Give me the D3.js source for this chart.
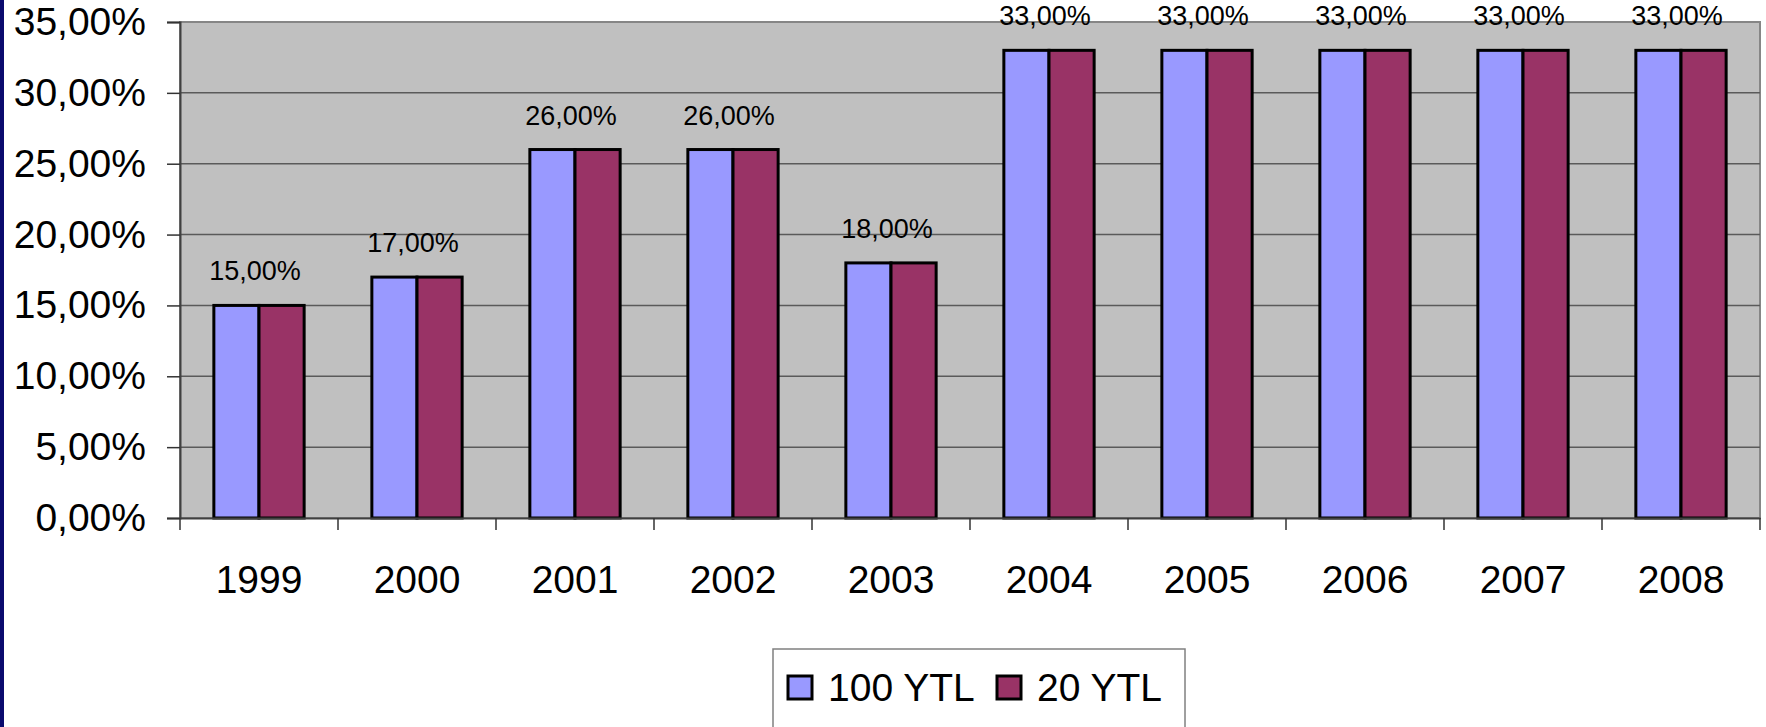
<!DOCTYPE html>
<html>
<head>
<meta charset="utf-8">
<script src="https://cdn.jsdelivr.net/npm/d3@7"></script>
<style>
  html, body { margin: 0; padding: 0; background: #fff; }
  svg { display: block; font-family: "Liberation Sans", Arial, sans-serif; }
</style>
</head>
<body>
<svg id="chart" width="1766" height="727"></svg>
<script>
const years = ['1999', '2000', '2001', '2002', '2003', '2004', '2005', '2006', '2007', '2008'];
const seriesNames = ['100 YTL', '20 YTL'];
const values100 = [0.15, 0.17, 0.26, 0.26, 0.18, 0.33, 0.33, 0.33, 0.33, 0.33];
const values20 = [0.15, 0.17, 0.26, 0.26, 0.18, 0.33, 0.33, 0.33, 0.33, 0.33];
const yTicks = [0, 0.05, 0.10, 0.15, 0.20, 0.25, 0.30, 0.35];
const colors = ['#9999FF', '#993366'];

const svg = d3.select('#chart');

// left navy strip of the slide
svg.append('rect')
  .attr('x', 0).attr('y', 0)
  .attr('width', 4).attr('height', 727)
  .attr('fill', '#0a0a6e');

const plot = { left: 180, right: 1760, top: 22, bottom: 518 };

const x = d3.scaleBand()
  .domain(years)
  .range([plot.left, plot.right])
  .paddingInner(0)
  .paddingOuter(0);

// excel gap width 150%
const x1 = d3.scaleBand()
  .domain(seriesNames)
  .range([0, x.bandwidth()])
  .paddingInner(0)
  .paddingOuter(0.75);

const y = d3.scaleLinear()
  .domain([0, 0.35])
  .range([plot.bottom, plot.top]);

const locale = d3.formatLocale({ decimal: ',', thousands: '.', grouping: [3], currency: ['', ' TL'] });
const pct = locale.format('.2%');

// plot background
svg.append('rect')
  .attr('x', plot.left)
  .attr('y', plot.top)
  .attr('width', plot.right - plot.left)
  .attr('height', plot.bottom - plot.top)
  .attr('fill', '#C0C0C0')
  .attr('stroke', '#868686')
  .attr('stroke-width', 2);

// gridlines
svg.append('g')
  .selectAll('line')
  .data(yTicks.filter(d => d > 0 && d < 0.35))
  .join('line')
  .attr('x1', plot.left)
  .attr('x2', plot.right)
  .attr('y1', d => y(d))
  .attr('y2', d => y(d))
  .attr('stroke', '#5a5a5a')
  .attr('stroke-width', 1.5);

// y axis
const yAxis = svg.append('g')
  .attr('transform', `translate(${plot.left},0)`)
  .call(d3.axisLeft(y).tickValues(yTicks).tickFormat(pct).tickSize(13).tickPadding(21));
yAxis.select('.domain').attr('stroke', '#404040').attr('stroke-width', 2);
yAxis.selectAll('.tick line').attr('stroke', '#333').attr('stroke-width', 1.5);
yAxis.selectAll('.tick text')
  .attr('font-size', 39)
  .attr('font-family', '"Liberation Sans", Arial, sans-serif')
  .attr('fill', '#000');

// bars
const rows = years.map((yr, i) => ({ year: yr, vals: [values100[i], values20[i]] }));

const groups = svg.append('g')
  .selectAll('g')
  .data(rows)
  .join('g')
  .attr('transform', d => `translate(${x(d.year)},0)`);

groups.selectAll('rect')
  .data(d => d.vals.map((v, j) => ({ name: seriesNames[j], v, j })))
  .join('rect')
  .attr('x', d => x1(d.name))
  .attr('y', d => y(d.v))
  .attr('width', x1.bandwidth())
  .attr('height', d => y(0) - y(d.v))
  .attr('fill', d => colors[d.j])
  .attr('stroke', '#000')
  .attr('stroke-width', 3);

// data labels
groups.append('text')
  .attr('x', x.bandwidth() / 2 - 4)
  .attr('y', d => y(d.vals[0]) - 25)
  .attr('text-anchor', 'middle')
  .attr('font-size', 27)
  .attr('fill', '#000')
  .text(d => pct(d.vals[0]));

// x axis
const xAxis = svg.append('g')
  .attr('transform', `translate(0,${plot.bottom})`)
  .call(d3.axisBottom(x).tickSize(0).tickPadding(47));
xAxis.select('.domain').attr('stroke', '#404040').attr('stroke-width', 2);
xAxis.selectAll('.tick text')
  .attr('font-size', 39)
  .attr('font-family', '"Liberation Sans", Arial, sans-serif')
  .attr('fill', '#000');

// boundary tick marks between categories
svg.append('g')
  .selectAll('line')
  .data(years.map(d => x(d)).concat([plot.right]))
  .join('line')
  .attr('x1', d => d)
  .attr('x2', d => d)
  .attr('y1', plot.bottom)
  .attr('y2', plot.bottom + 12)
  .attr('stroke', '#333')
  .attr('stroke-width', 1.5);

// legend
const legend = svg.append('g').attr('transform', 'translate(773,649)');
legend.append('rect')
  .attr('x', 0).attr('y', 0)
  .attr('width', 412).attr('height', 100)
  .attr('fill', '#fff')
  .attr('stroke', '#808080')
  .attr('stroke-width', 1.5);

const legendX = [15, 224];
const items = legend.selectAll('g.item')
  .data(seriesNames)
  .join('g')
  .attr('class', 'item')
  .attr('transform', (d, i) => `translate(${legendX[i]},0)`);
items.append('rect')
  .attr('x', 0).attr('y', 27)
  .attr('width', 24).attr('height', 23)
  .attr('fill', (d, i) => colors[i])
  .attr('stroke', '#000')
  .attr('stroke-width', 3);
items.append('text')
  .attr('x', 40)
  .attr('y', 52)
  .attr('font-size', 39)
  .attr('fill', '#000')
  .text(d => d);
</script>
</body>
</html>
